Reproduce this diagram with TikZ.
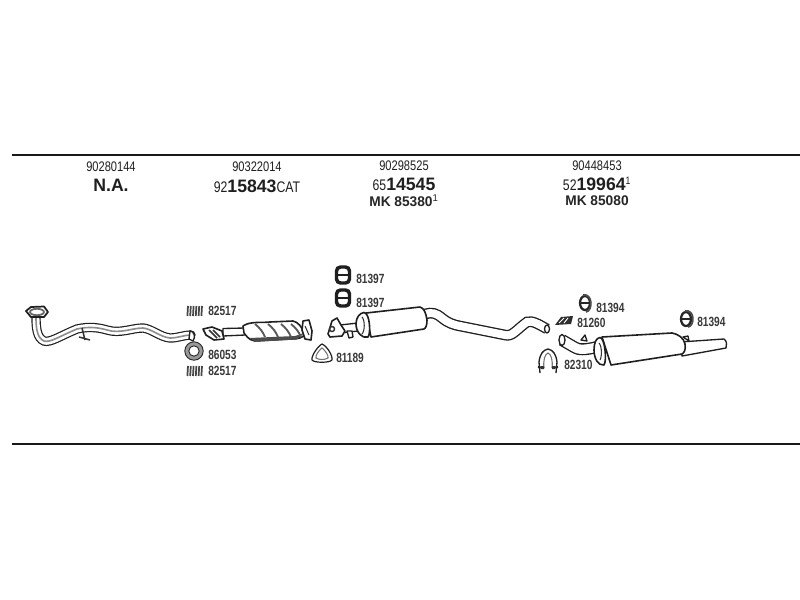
\documentclass[tikz,border=0pt]{standalone}
\usepackage{fontspec}
\setmainfont{Liberation Sans}
\newfontfamily\narrowfont[FakeStretch=0.8]{Liberation Sans}
\newfontfamily\labfont[FakeStretch=0.76]{Liberation Sans}
\newfontfamily\widefont[FakeStretch=0.98]{Liberation Sans}
\tikzset{
  x=0.75pt, y=-0.75pt,
  ink/.style={color=black!88},
  part/.style={draw=black!88, fill=white, line width=1pt, line join=round},
  partline/.style={draw=black!80, line width=0.8pt},
  heavy/.style={draw=black!85, line width=1.5pt},
  rule/.style={draw=black!90, line width=1.6pt},
  lab/.style={inner sep=0pt, font=\labfont\bfseries\fontsize{10}{11}\selectfont, text=black!78},
  num/.style={inner sep=0pt, font=\narrowfont\fontsize{10.4}{12}\selectfont, text=black!88},
  big/.style={inner sep=0pt, font=\narrowfont\fontsize{11.5}{12}\selectfont, text=black!88},
  mk/.style={inner sep=0pt, font=\widefont\bfseries\fontsize{10.5}{12}\selectfont, text=black!85}
}
\newcommand{\bigpart}[1]{{\widefont\bfseries\fontsize{13.5}{14}\selectfont #1}}
\begin{document}
\begin{tikzpicture}
\useasboundingbox (0,0) rectangle (800,600);
\fill[white] (0,0) rectangle (800,600);

% rules
\coordinate (ta) at (12,155); \coordinate (tb) at (800,155);
\coordinate (ba) at (12,444); \coordinate (bb) at (800,444);
\draw[rule] (ta) -- (tb);
\draw[rule] (ba) -- (bb);

% header texts
\node[num] (n1) at (111,167) {90280144};
\node[inner sep=0pt, font=\widefont\bfseries\fontsize{13.5}{14}\selectfont, text=black!88] (n1b) at (111,185) {N.A.};
\node[num] (n2) at (257,167) {90322014};
\node[big] (n2b) at (257,186) {92\bigpart{15843}CAT};
\node[num] (n3) at (404,166) {90298525};
\node[big] (n3b) at (404,184) {65\bigpart{14545}};
\node[mk] (n3c) at (404,201) {MK\ 85380\textsuperscript{\mdseries 1}};
\node[num] (n4) at (597,166) {90448453};
\node[big] (n4b) at (597,184) {52\bigpart{19964}\textsuperscript{1}};
\node[mk] (n4c) at (597,201) {MK\ 85080};

% front pipe
\def\frontpipe{(36,317) .. controls (36,328) and (37,338) .. (44,341) .. controls (50,343) and (60,336) .. (77,329) .. controls (90,326) and (100,328) .. (107,330) .. controls (120,334) and (132,328) .. (143,328) .. controls (152,329) and (160,337) .. (170,338) .. controls (178,338) and (184,335) .. (191,335)}
\draw[line width=7pt, ink, line cap=round] \frontpipe;
\draw[line width=5.2pt, white, line cap=round] \frontpipe;
\draw[line width=1.2pt, black!45] \frontpipe;
\draw[part, line width=1.3pt] (26,311) -- (31,307) -- (44,306.5) -- (48,312) -- (44,317) -- (31,317) -- cycle;
\draw[line width=1.3pt, black!60] (37,312) ellipse (7 and 3.2);
\draw[partline, line width=1.1pt] (82,328) -- (85,340) (79,337) -- (90,340);
\draw[part] (190,331) .. controls (194,331) and (196,337) .. (193,341) -- (189,339) -- cycle;

% springs 82517
\foreach \sy in {311,371} {
  \foreach \sx in {188,190.8,193.6,196.4,199.2,202} {
    \draw[line width=1.3pt, black!72] (\sx,\sy-5) -- (\sx-0.6,\sy+5);
  }
}
\node[lab, anchor=west] (l1) at (208,311) {82517};
\node[lab, anchor=west] (l2) at (208,371) {82517};

% ring gasket 86053
\draw[line width=2.8pt, black!40] (194,351) circle (7.2);
\draw[line width=0.7pt, black!85] (194,351) circle (9.2);
\draw[line width=0.7pt, black!85] (194,351) circle (5.2);
\node[lab, anchor=west] (l3) at (208,355) {86053};

% catalyst
\draw[part] (223,328.5) -- (245,328) -- (245,335) -- (223,336) -- cycle;
\draw[part, line width=1.2pt] (203,329) -- (212,327) -- (222,331) -- (224,339) -- (214,340) -- (206,335) -- cycle;
\draw[partline, line width=1.1pt] (209,330) -- (217,338) (213,330) -- (220,337);
\draw[part, line width=1.2pt] (243,326) .. controls (250,321) and (262,323) .. (270,322) -- (293,321) .. controls (298,322) and (302,327) .. (305,334) .. controls (303,338) and (298,339) .. (290,339) -- (255,341) .. controls (248,340) and (246,335) .. (244,333) -- cycle;
\fill[black!70] (250,338) -- (295,336) -- (304,333) -- (297,339.5) -- (255,341.8) -- cycle;
\foreach \rx in {255,268,281,291} {
  \draw[line width=1.4pt, black!65] (\rx,324) .. controls (\rx+5,328) and (\rx+8,332) .. (\rx+10,337);
}
\draw[part, line width=1.2pt] (303,321) -- (309,320) -- (312,331) -- (311,340) -- (305,339) -- (302,330) -- cycle;
\draw[partline] (305,326) -- (309,335);

% triangular gasket 81189
\draw[part, line width=0.9pt] (322,344) .. controls (327,346) and (333,356) .. (332,360) .. controls (330,363) and (314,363) .. (312,360) .. controls (311,356) and (318,346) .. (322,344) -- cycle;
\draw[partline, black!55] (322,348) .. controls (325,350) and (329,356) .. (328,358) .. controls (325,360) and (319,360) .. (316,358) .. controls (315,356) and (319,350) .. (322,348) -- cycle;
\node[lab, anchor=west] (l4) at (336,358) {81189};

% gaskets 81397
\foreach \gy in {275,298} {
  \draw[line width=2.6pt, black!88, rounded corners=3pt] (336.5,\gy-8) rectangle (349.5,\gy+8);
  \draw[line width=2pt, black!88] (336.5,\gy) -- (349.5,\gy);
}
\node[lab, anchor=west] (l5) at (356,279) {81397};
\node[lab, anchor=west] (l6) at (356,303) {81397};

% centre silencer
\def\midpipe{(425,314) .. controls (432,312) and (436,313) .. (442,318) .. controls (448,323) and (454,325) .. (460,326) -- (505,335) .. controls (512,337) and (516,330) .. (527,322) .. controls (532,320) and (540,325) .. (547,329)}
\draw[line width=8pt, ink] \midpipe;
\draw[line width=6pt, white] \midpipe;
\draw[part] (547,329) ellipse (2.5 and 4);
\draw[part] (340,325) -- (358,323) -- (358,331) -- (340,333) -- cycle;
\draw[part, line width=1.2pt] (328,334) -- (332,321) -- (337,318) -- (341,325) -- (345,331) -- (342,336) -- (330,337) -- cycle;
\draw[partline, line width=1.1pt] (332,329) circle (2.5);
\draw[part] (347,331) -- (352,331) -- (353,337) -- (349,338) -- cycle;
\draw[part, line width=1.2pt] (366,313) -- (420,307) .. controls (424,308) and (426,313) .. (427,320) .. controls (427,325) and (426,328) .. (424,329) -- (371,337) -- cycle;
\draw[part, line width=1.2pt] (364,312.5) .. controls (370,313) and (371,334) .. (368,337) .. controls (362,339) and (356,332) .. (356,324) .. controls (356,317) and (360,313) .. (364,312.5) -- cycle;
\draw[partline] (362,317) .. controls (365,320) and (365,331) .. (362,334);

% rear parts
\node[lab, anchor=west] (l7) at (596,308) {81394};
\draw[line width=1.7pt, black!85] (585,303) ellipse (5 and 7);
\draw[line width=1.2pt, black!85] (580,303) -- (590,303);
\draw[line width=1.3pt, black!70] (583,295) .. controls (593,293) and (593,311) .. (586,312);

\fill[black!82] (555,325) -- (561,317) -- (573,316) -- (571,324) -- cycle;
\draw[white, line width=0.7pt] (559,323) -- (564,318) (564,323) -- (568,318);
\node[lab, anchor=west] (l8) at (577,323) {81260};

\draw[part, line width=1pt] (540,373) -- (539,362) .. controls (540,354) and (543,350) .. (548,349) .. controls (553,350) and (556,354) .. (557,362) -- (556,373);
\draw[partline, black!55] (544,368) .. controls (543,360) and (545,354) .. (548,353) .. controls (551,354) and (553,360) .. (552,368);
\draw[heavy] (538,367) -- (544,368) (552,368) -- (558,367);
\fill[black!80] (541,366) rectangle (544,369) (552,366) rectangle (555,369);
\node[lab, anchor=west] (l9) at (564,365) {82310};

\def\inpipe{(562,340) -- (574,347) .. controls (578,350) and (585,350) .. (597,347)}
\draw[line width=9pt, ink] \inpipe;
\draw[line width=7pt, white] \inpipe;
\draw[part] (562,340) ellipse (3 and 5.5);
\draw[part] (581,340) -- (585,335) -- (587,341) -- cycle;

\draw[part] (680,342) -- (724,339) .. controls (727,341) and (727,345) .. (726,348) -- (682,356) -- cycle;
\draw[part] (683,337) -- (688,336) -- (689,341) -- cycle;
\draw[part, line width=1.2pt] (602,337) -- (672,333) .. controls (678,334) and (684,338) .. (685,344) .. controls (686,350) and (684,353) .. (682,354) -- (611,365) -- cycle;
\draw[part, line width=1.2pt] (600,337.5) .. controls (605,338) and (607,361) .. (604,365) .. controls (598,366) and (594,358) .. (594,350) .. controls (594,343) and (596,338) .. (600,337.5) -- cycle;
\draw[partline] (599,343) .. controls (602,346) and (602,357) .. (600,360);

\node[lab, anchor=west] (l10) at (697,322) {81394};
\draw[line width=1.7pt, black!85] (686,319) ellipse (5 and 7);
\draw[line width=1.2pt, black!85] (681,319) -- (691,319);
\draw[line width=1.3pt, black!70] (685,311) .. controls (695,309) and (695,326) .. (688,327);
\end{tikzpicture}
\end{document}
